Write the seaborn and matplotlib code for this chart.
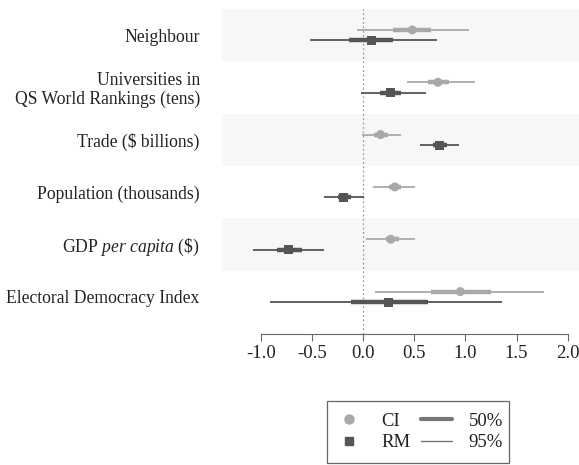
import matplotlib
matplotlib.use("Agg")
import matplotlib.pyplot as plt
from matplotlib.lines import Line2D
from matplotlib.patches import Rectangle
import numpy as np
import pandas as pd
import seaborn as sns

# Predictors (top to bottom)
labels = [
    "Neighbour",
    "Universities in\nQS World Rankings (tens)",
    "Trade ($ billions)",
    "Population (thousands)",
    r"GDP $\mathit{per\ capita}$ (\$)",
    "Electoral Democracy Index",
]

# Posterior summaries per model: point estimate, 50% and 95% intervals
ci_est = [0.48, 0.73, 0.17, 0.31, 0.27, 0.95]
ci_lo50 = [0.29, 0.63, 0.11, 0.25, 0.22, 0.66]
ci_hi50 = [0.66, 0.84, 0.24, 0.37, 0.35, 1.25]
ci_lo95 = [-0.06, 0.43, -0.01, 0.10, 0.03, 0.12]
ci_hi95 = [1.03, 1.09, 0.37, 0.51, 0.51, 1.77]

rm_est = [0.08, 0.27, 0.75, -0.19, -0.73, 0.25]
rm_lo50 = [-0.14, 0.16, 0.68, -0.25, -0.84, -0.12]
rm_hi50 = [0.29, 0.37, 0.82, -0.12, -0.60, 0.63]
rm_lo95 = [-0.52, -0.02, 0.56, -0.38, -1.08, -0.91]
rm_hi95 = [0.72, 0.61, 0.94, 0.01, -0.38, 1.36]

models = ["CI", "RM"]
xticks = [-1.0, -0.5, 0.0, 0.5, 1.0, 1.5, 2.0]

colors = {"CI": "#a9a9a9", "RM": "#555555"}
markers = {"CI": "o", "RM": "s"}
offset = {"CI": -0.1, "RM": 0.1}

sns.set_theme(style="white")
plt.rcParams["font.family"] = ["Liberation Serif", "DejaVu Serif"]
plt.rcParams["mathtext.fontset"] = "custom"
plt.rcParams["mathtext.rm"] = "Liberation Serif"
plt.rcParams["mathtext.it"] = "Liberation Serif:italic"

rows = []
for model, est, lo50, hi50, lo95, hi95 in [
    ("CI", ci_est, ci_lo50, ci_hi50, ci_lo95, ci_hi95),
    ("RM", rm_est, rm_lo50, rm_hi50, rm_lo95, rm_hi95),
]:
    for i, lab in enumerate(labels):
        rows.append(dict(model=model, row=i, y=i + offset[model], est=est[i],
                         lo50=lo50[i], hi50=hi50[i], lo95=lo95[i], hi95=hi95[i]))
df = pd.DataFrame(rows)

fig = plt.figure(figsize=(5.79, 4.65), dpi=100)
ax = fig.add_axes([0.3834, 1 - 334 / 465, 1 - 0.3834, (334 - 9) / 465])

# alternating shaded bands
for i in range(0, len(labels), 2):
    ax.axhspan(i - 0.5, i + 0.5, color="#f7f7f7", lw=0, zorder=0)

ax.axvline(0, color="#999999", lw=0.9, ls=(0, (1.5, 2)), zorder=1)

for model in models:
    d = df[df.model == model]
    ax.hlines(d.y, d.lo95, d.hi95, color=colors[model], lw=1.3, zorder=2)
    ax.hlines(d.y, d.lo50, d.hi50, color=colors[model], lw=3.2, zorder=3)

sns.scatterplot(data=df, x="est", y="y", hue="model", style="model",
                palette=colors, markers=markers, hue_order=models,
                style_order=models, s=42, edgecolor="none", legend=False,
                zorder=4, ax=ax)

ax.set_ylim(5.71, -0.5)
ax.set_xlim(-1.38, 2.11)
ax.set_yticks(range(len(labels)))
ax.set_yticklabels(labels, fontsize=12.7, color="#222222", linespacing=1.1)
ax.set_xticks(xticks)
ax.set_xticklabels([f"{t:.1f}" for t in xticks], fontsize=13.5, color="#222222")
ax.set_xlabel("")
ax.set_ylabel("")
ax.tick_params(axis="y", length=0, pad=16)
ax.tick_params(axis="x", length=5, width=0.8, color="#666666", pad=3,
               bottom=True)
sns.despine(ax=ax, left=True, trim=False)
ax.spines["bottom"].set_bounds(-1.0, 2.0)
ax.spines["bottom"].set_color("#666666")
ax.spines["bottom"].set_linewidth(0.8)

handles = [
    Line2D([], [], ls="none", marker="o", color=colors["CI"], markersize=6.5),
    Line2D([], [], ls="none", marker="s", color=colors["RM"], markersize=6),
    Line2D([], [], color="#777777", lw=3.0),
    Line2D([], [], color="#777777", lw=1.0),
]
leg = fig.legend(handles, ["CI", "RM", "50%", "95%"], ncol=2,
                 loc="center", bbox_to_anchor=(0.722, 0.071),
                 fontsize=13.5, frameon=False, handlelength=1.65,
                 handletextpad=0.9, columnspacing=0.55, borderpad=0.35,
                 labelspacing=0.25)
for t in leg.get_texts():
    t.set_color("#222222")

# box around the legend, taller than its content
fig.canvas.draw()
bb = leg.get_window_extent()
box_h = 62
cy = (bb.y0 + bb.y1) / 2
frame = Rectangle((bb.x0, cy - box_h / 2), bb.width, box_h,
                  transform=None, fill=False, edgecolor="#666666", lw=0.9)
fig.add_artist(frame)

fig.savefig("out.png", dpi=100)
